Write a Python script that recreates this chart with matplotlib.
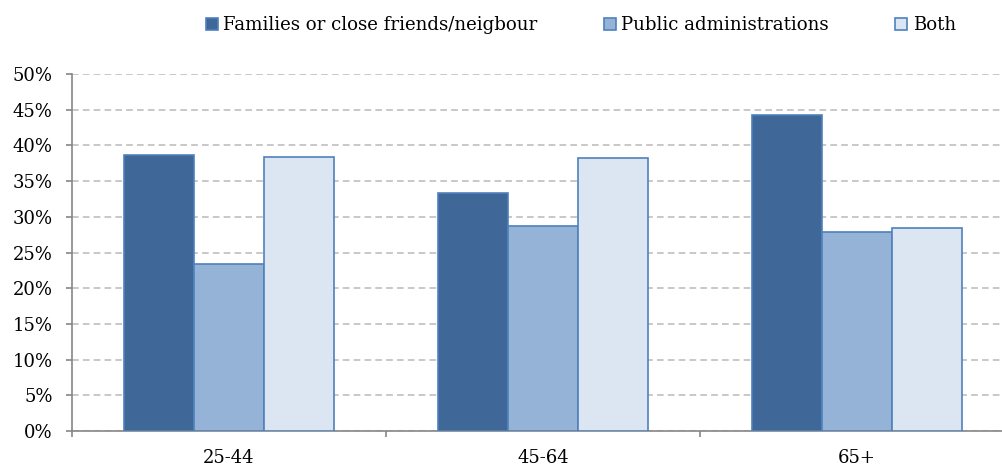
import matplotlib
matplotlib.use("Agg")
import matplotlib.pyplot as plt
import numpy as np
from matplotlib.ticker import FuncFormatter, MultipleLocator

plt.rcParams['font.family'] = ['DejaVu Serif']

categories = ["25-44", "45-64", "65+"]
series_names = ["Families or close friends/neigbour", "Public administrations", "Both"]
families = [38.6, 33.4, 44.2]
public_admin = [23.4, 28.7, 27.9]
both = [38.4, 38.3, 28.4]

colors = ["#3F6899", "#95B3D7", "#DCE6F2"]
edge = "#4F81BD"

W, H = 1003, 467
fig = plt.figure(figsize=(W / 100, H / 100), dpi=100)
ax = fig.add_axes([72 / W, (H - 431) / H, (1014 - 72) / W, (431 - 74) / H])

x = np.arange(len(categories))
width = 0.223
for i, (vals, name) in enumerate(zip([families, public_admin, both], series_names)):
    ax.bar(x + (i - 1) * width, vals, width, color=colors[i], edgecolor=edge,
           linewidth=1.2, label=name, zorder=3)

ax.set_ylim(0, 50)
ax.set_xlim(-0.5, 2.5)
ax.yaxis.set_major_locator(MultipleLocator(5))
ax.yaxis.set_major_formatter(FuncFormatter(lambda v, p: f"{v:.0f}%"))
ax.grid(axis='y', color='#BFBFBF', linestyle=(0, (4, 2.5)), linewidth=1.2, zorder=0)

ax.set_xticks(x)
ax.set_xticklabels(categories)
ax.set_xticks([-0.5, 0.5, 1.5, 2.5], minor=True)
ax.tick_params(axis='x', which='major', length=0, pad=13, labelsize=13)
ax.tick_params(axis='x', which='minor', length=4.5, color='#868686', width=1.2)
ax.tick_params(axis='y', length=4, color='#868686', width=1.2, labelsize=13, pad=10)

for s in ['top', 'right']:
    ax.spines[s].set_visible(False)
for s in ['left', 'bottom']:
    ax.spines[s].set_color('#868686')
    ax.spines[s].set_linewidth(1.2)

fig.legend(loc='upper center', bbox_to_anchor=(581 / W, 1.0), ncol=3, frameon=False,
           fontsize=13.1, handlelength=0.65, handleheight=0.65, handletextpad=0.3,
           columnspacing=3.65)

fig.savefig("out.png", dpi=100)
